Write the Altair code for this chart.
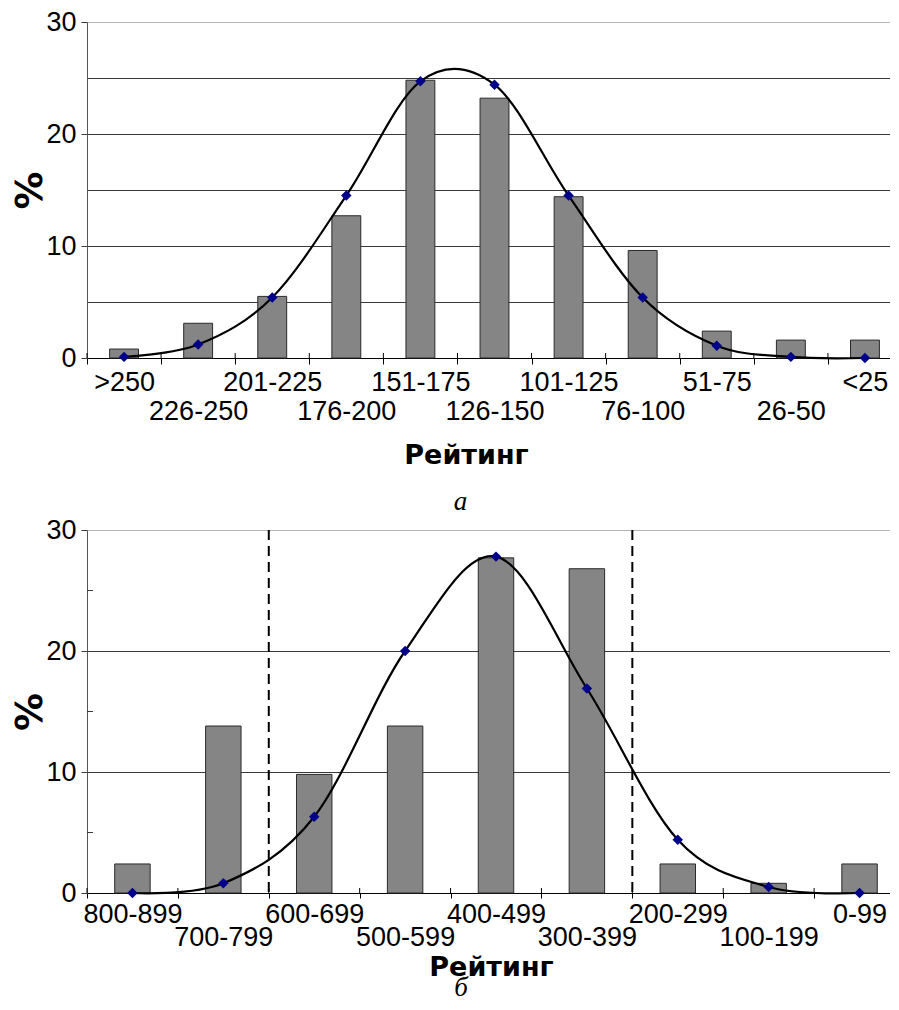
import json
import altair as alt
import pandas as pd

# ---- panel "а" ----
cats_a = [">250", "226-250", "201-225", "176-200", "151-175", "126-150",
          "101-125", "76-100", "51-75", "26-50", "<25"]
bars_a = [0.8, 3.1, 5.5, 12.7, 24.8, 23.2, 14.4, 9.6, 2.4, 1.6, 1.6]
fit_a = [0.1, 1.2, 5.4, 14.5, 24.7, 24.4, 14.5, 5.4, 1.1, 0.1, 0.0]
yticks_a = [0, 5, 10, 15, 20, 25, 30]

# ---- panel "б" ----
cats_b = ["800-899", "700-799", "600-699", "500-599", "400-499",
          "300-399", "200-299", "100-199", "0-99"]
bars_b = [2.4, 13.8, 9.8, 13.8, 27.7, 26.8, 2.4, 0.8, 2.4]
fit_b = [0.0, 0.8, 6.3, 20.0, 27.8, 16.9, 4.4, 0.5, 0.0]
yticks_b = [0, 10, 20, 30]
minor_b = [5, 15, 25]
dashed_b = ["600-699", "200-299"]

FONT = "Liberation Sans"
TFONT = "DejaVu Sans"


def label_expr(cats):
    return ("indexof(%s, datum.value) %% 2 == 1 ? ['', datum.label] : datum.label"
            % json.dumps(cats))


def make_panel(cats, bars, fit, W, H, yvals, line_h, tick_sz, lab_pad, title_pad,
               title_x, caption, cap_dx, cap_off, grid_color, tick_color, ylab_expr,
               extra):
    df = pd.DataFrame({"cat": cats, "bar": bars, "fit": fit})
    xaxis = alt.Axis(
        title="Рейтинг", labelAngle=0, labelExpr=label_expr(cats),
        labelLineHeight=line_h, labelFont=FONT, labelFontSize=27,
        labelColor="black", labelPadding=lab_pad, labelOverlap=False,
        labelBound=False, labelFlush=False,
        tickBand="extent", tickSize=tick_sz, tickColor="black", tickWidth=1,
        domainColor="black", domainWidth=1, grid=False,
        titleFont=TFONT, titleFontSize=27, titleFontWeight="bold",
        titleColor="black", titlePadding=title_pad, titleX=title_x,
        titleAnchor="start", titleAlign="center",
    )
    yaxis = alt.Axis(
        title="%", values=yvals, grid=True, gridColor=grid_color, gridWidth=1,
        gridOpacity=1, tickColor=tick_color, tickSize=6, tickWidth=1,
        domainColor="#555555", domainWidth=1,
        labelExpr=ylab_expr, labelFont=FONT, labelFontSize=27,
        labelColor="black", labelPadding=5,
        titleFont=TFONT, titleFontSize=38, titleFontWeight="bold",
        titleColor="black", titlePadding=-4,
    )
    xs = alt.Scale(paddingInner=0, paddingOuter=0)
    ys = alt.Scale(domain=[0, 30], nice=False)
    base = alt.Chart(df)
    bar = base.mark_bar(width={"band": 0.39}, color="#858585",
                        stroke="#2a2a2a", strokeWidth=1).encode(
        x=alt.X("cat:N", sort=cats, scale=xs, axis=xaxis),
        y=alt.Y("bar:Q", scale=ys, axis=yaxis, title="%"),
    )
    # inner half of the crossing category ticks
    inner = base.mark_rule(color="black", strokeWidth=1).encode(
        x=alt.X("cat:N", sort=cats, bandPosition=0),
        y=alt.value(H - 5), y2=alt.value(H),
    )
    line = base.mark_line(interpolate="cardinal", color="black",
                          strokeWidth=2.2).encode(
        x=alt.X("cat:N", sort=cats),
        y=alt.Y("fit:Q", title="%"),
    )
    pts = base.mark_point(shape="diamond", filled=True, size=110,
                          color="#00008b", opacity=1).encode(
        x=alt.X("cat:N", sort=cats),
        y=alt.Y("fit:Q", title="%"),
    )
    layers = [bar, inner] + extra + [line, pts]
    return alt.layer(*layers).properties(
        width=W, height=H,
        title=alt.TitleParams(caption, orient="bottom", font="Liberation Serif",
                              fontStyle="italic", fontWeight="normal",
                              fontSize=27, color="black", dx=cap_dx,
                              offset=cap_off),
    )


grid_a = {"condition": {"test": "datum.value == 30", "value": "#b5b5b5"},
          "value": "#3a3a3a"}
tick_a = {"condition": {"test": "datum.value % 10 == 0", "value": "#3a3a3a"},
          "value": "transparent"}
# as in the original, the plots run off the right edge of the picture
top = make_panel(cats_a, bars_a, fit_a, 815, 336, yticks_a, 29, 6, 5, 18, 379,
                 "а", -34, 21, grid_a, tick_a,
                 "datum.value % 10 == 0 ? datum.label : ''", [])

dash = alt.Chart(pd.DataFrame({"cat": dashed_b})).mark_rule(
    color="black", strokeWidth=2, strokeDash=[10, 6]).encode(
    x=alt.X("cat:N", sort=cats_b, bandPosition=0))
minor = alt.Chart(pd.DataFrame({"v": minor_b})).mark_rule(
    color="#3a3a3a", strokeWidth=1).encode(
    y=alt.Y("v:Q", title="%"), x=alt.value(0), x2=alt.value(6))

grid_b = {"condition": {"test": "datum.value == 30", "value": "#b5b5b5"},
          "value": "#3a3a3a"}
bottom = make_panel(cats_b, bars_b, fit_b, 818, 363, yticks_b, 23, 5, 3, 4, 404,
                    "б", -35, -5, grid_b, "#3a3a3a", "datum.label", [dash, minor])

chart = alt.vconcat(top, bottom, spacing=1).properties(
    padding={"left": 3, "top": 0, "right": -16, "bottom": -3}
).configure(font=FONT).configure_view(strokeWidth=0).configure_title(
    anchor="middle")

chart.save("out.html", embed_options={"renderer": "svg", "actions": False})
